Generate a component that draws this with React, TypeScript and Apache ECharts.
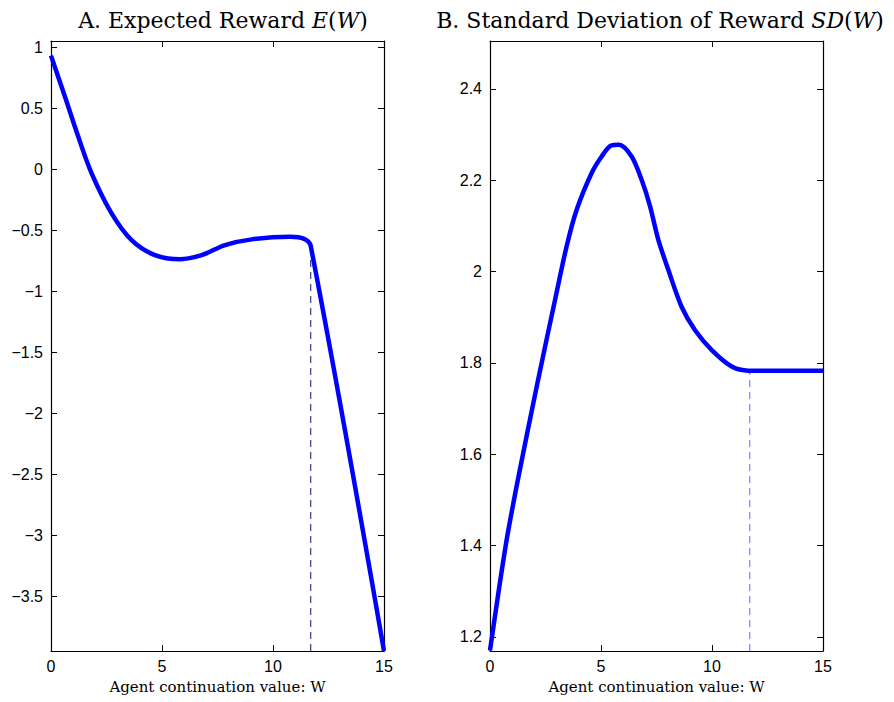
import React, { useEffect, useRef } from "react";
import * as echarts from "echarts";

// Panel A: expected reward E(W)
const eW = [0, 0.63, 1.23, 1.83, 2.73, 3.63, 4.68, 5.81, 6.79, 7.84, 9.04, 10.77, 11.4, 11.7, 15];
const eVal = [0.93, 0.593, 0.265, -0.035, -0.363, -0.582, -0.705, -0.738, -0.705, -0.623, -0.576, -0.555, -0.572, -0.63, -3.95];

// Panel B: standard deviation SD(W)
const sdW = [0, 0.707, 1.28, 2.18, 2.93, 3.45, 3.9, 4.58, 5.03, 5.45, 5.81, 6.38, 6.83, 7.21, 7.58, 8.03, 8.63, 9.23, 9.99, 10.89, 11.64, 15];
const sdVal = [1.17, 1.4, 1.55, 1.766, 1.938, 2.055, 2.135, 2.216, 2.252, 2.276, 2.278, 2.252, 2.201, 2.143, 2.07, 2.004, 1.923, 1.872, 1.828, 1.792, 1.783, 1.783];

const cutoffW = 11.7;
const eAtCutoff = -0.63;
const sdAtCutoff = 1.783;

const eTicks = [1, 0.5, 0, -0.5, -1, -1.5, -2, -2.5, -3, -3.5];
const sdTicks = [1.2, 1.4, 1.6, 1.8, 2, 2.2, 2.4];

const eRange = [-3.95, 1.05];
const sdRange = [1.169, 2.505];

const titles = ["A. Expected Reward {i|E}({i|W})", "B. Standard Deviation of Reward {i|SD}({i|W})"];
const xName = "Agent continuation value: W";

export default function App() {
  const ref = useRef<HTMLDivElement>(null);
  useEffect(() => {
    document.body.style.margin = "0";
    const chart = echarts.init(ref.current!, null, { renderer: "svg" });
    const lefts = [51, 490];
    const W = 333;
    const titleCenters = [218, 655];
    const fmt = (v: number) => String(v).replace("-", "\u2212");
    const tick = { inside: true, length: 6, lineStyle: { color: "#000", width: 1 } };
    const axLine = { show: true, onZero: false, lineStyle: { color: "#000", width: 1.2 } };
    const labelStyle = { color: "#000", fontFamily: "Liberation Sans", fontSize: 16 };
    const xAxes: any[] = [];
    const yAxes: any[] = [];
    [0, 1].forEach((g) => {
      xAxes.push({
        type: "value", gridIndex: g, position: "bottom", min: 0, max: 15, interval: 5,
        axisLine: axLine, axisTick: tick, splitLine: { show: false },
        axisLabel: { ...labelStyle, margin: 7 },
        name: xName, nameLocation: "middle", nameGap: 28,
        nameTextStyle: { color: "#000", fontFamily: "DejaVu Serif", fontSize: 15 },
      });
      xAxes.push({
        type: "value", gridIndex: g, position: "top", min: 0, max: 15, interval: 5,
        axisLine: axLine, axisTick: tick, splitLine: { show: false }, axisLabel: { show: false },
      });
      const ticks = g === 0 ? eTicks : sdTicks;
      const range = g === 0 ? eRange : sdRange;
      yAxes.push({
        type: "value", gridIndex: g, position: "left", min: range[0], max: range[1],
        axisLine: axLine, splitLine: { show: false },
        axisTick: { ...tick, customValues: ticks },
        axisLabel: { ...labelStyle, margin: 8, customValues: ticks, formatter: fmt },
      });
      yAxes.push({
        type: "value", gridIndex: g, position: "right", min: range[0], max: range[1],
        axisLine: axLine, splitLine: { show: false },
        axisTick: { ...tick, customValues: ticks },
        axisLabel: { show: false, customValues: ticks },
      });
    });
    const titleRich = {
      i: { fontFamily: "DejaVu Serif", fontStyle: "italic", fontSize: 22, color: "#000" },
    };
    chart.setOption({
      animation: false,
      backgroundColor: "#fff",
      title: titles.map((t, k) => ({
        text: t,
        left: titleCenters[k],
        top: 4,
        textAlign: "center",
        textStyle: {
          fontFamily: "DejaVu Serif", fontWeight: "normal", fontSize: 22, color: "#000",
          rich: titleRich,
        },
      })),
      grid: lefts.map((l) => ({ left: l, top: 41, width: W, height: 610, containLabel: false })),
      xAxis: xAxes,
      yAxis: yAxes,
      series: [
        {
          type: "line", xAxisIndex: 0, yAxisIndex: 0, showSymbol: false, smooth: 0.35,
          data: eW.map((w, i) => [w, eVal[i]]),
          lineStyle: { color: "#0000ff", width: 4.5 }, z: 3,
        },
        {
          type: "line", xAxisIndex: 0, yAxisIndex: 0, showSymbol: false,
          data: [[cutoffW, eRange[0]], [cutoffW, eAtCutoff]],
          lineStyle: { color: "#10106a", width: 1, type: [7, 5] }, z: 2,
        },
        {
          type: "line", xAxisIndex: 2, yAxisIndex: 2, showSymbol: false, smooth: 0.3,
          data: sdW.map((w, i) => [w, sdVal[i]]),
          lineStyle: { color: "#0000ff", width: 4.5 }, z: 3,
        },
        {
          type: "line", xAxisIndex: 2, yAxisIndex: 2, showSymbol: false,
          data: [[cutoffW, sdRange[0]], [cutoffW, sdAtCutoff]],
          lineStyle: { color: "#7f7fff", width: 1.2, type: [7, 5] }, z: 2,
        },
      ],
    });
    return () => chart.dispose();
  }, []);
  return <div ref={ref} style={{ width: 894, height: 702 }} />;
}
